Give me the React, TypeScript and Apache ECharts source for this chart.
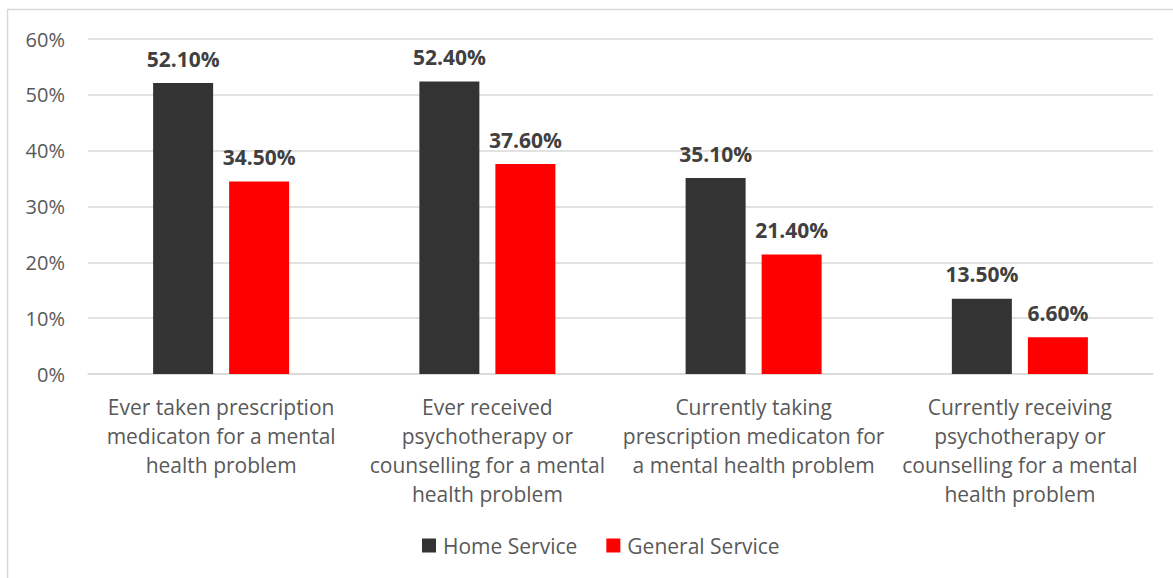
import React, { useEffect, useRef } from "react";
import * as echarts from "echarts";

const categories = [
  "Ever taken prescription\nmedicaton for a mental\nhealth problem",
  "Ever received\npsychotherapy or\ncounselling for a mental\nhealth problem",
  "Currently taking\nprescription medicaton for\na mental health problem",
  "Currently receiving\npsychotherapy or\ncounselling for a mental\nhealth problem",
];
const homeService = [52.1, 52.4, 35.1, 13.5];
const generalService = [34.5, 37.6, 21.4, 6.6];
const seriesNames = ["Home Service", "General Service"];

const FONT = "'Open Sans', sans-serif";

export default function App() {
  const ref = useRef<HTMLDivElement>(null);
  useEffect(() => {
    if (!ref.current) return;
    const chart = echarts.init(ref.current, null, { renderer: "svg" });
    const dataLabel = {
      show: true,
      position: "top",
      distance: 14,
      fontFamily: FONT,
      fontSize: 21,
      fontWeight: "bold",
      color: "#404040",
      formatter: (p: any) => p.value.toFixed(2) + "%",
    };
    chart.setOption({
      animation: false,
      backgroundColor: "#ffffff",
      textStyle: { fontFamily: FONT },
      graphic: [
        {
          type: "rect",
          shape: { x: 7.5, y: 9.5, width: 1200, height: 600 },
          style: { fill: "none", stroke: "#d9d9d9", lineWidth: 1.5 },
          silent: true,
        },
      ],
      grid: { left: 88, right: 20, top: 39, bottom: 204, containLabel: false },
      legend: {
        left: 417,
        top: 530,
        itemWidth: 14,
        itemHeight: 14,
        itemGap: 29,
        icon: "rect",
        textStyle: { fontFamily: FONT, fontSize: 21, color: "#595959", padding: [0, 0, 0, 2] },
        data: seriesNames,
      },
      xAxis: {
        type: "category",
        data: categories,
        axisLine: { lineStyle: { color: "#d9d9d9", width: 1.5 } },
        axisTick: { show: false },
        axisLabel: {
          interval: 0,
          margin: 18,
          fontFamily: FONT,
          fontSize: 21,
          lineHeight: 29,
          color: "#595959",
          align: "center",
        },
      },
      yAxis: {
        type: "value",
        min: 0,
        max: 60,
        interval: 10,
        axisLine: { show: false },
        axisTick: { show: false },
        splitLine: { lineStyle: { color: "#d9d9d9", width: 1.5 } },
        axisLabel: {
          formatter: "{value}%",
          margin: 23,
          fontFamily: FONT,
          fontSize: 20,
          color: "#595959",
        },
      },
      series: [
        {
          name: seriesNames[0],
          type: "bar",
          data: homeService,
          barWidth: 60,
          barGap: "26.7%",
          itemStyle: { color: "#333333" },
          label: dataLabel,
        },
        {
          name: seriesNames[1],
          type: "bar",
          data: generalService,
          barWidth: 60,
          itemStyle: { color: "#ff0000" },
          label: dataLabel,
        },
      ],
    });
    return () => chart.dispose();
  }, []);
  return (
    <div
      ref={ref}
      style={{ position: "fixed", left: 0, top: 0, width: 1173, height: 578 }}
    />
  );
}
